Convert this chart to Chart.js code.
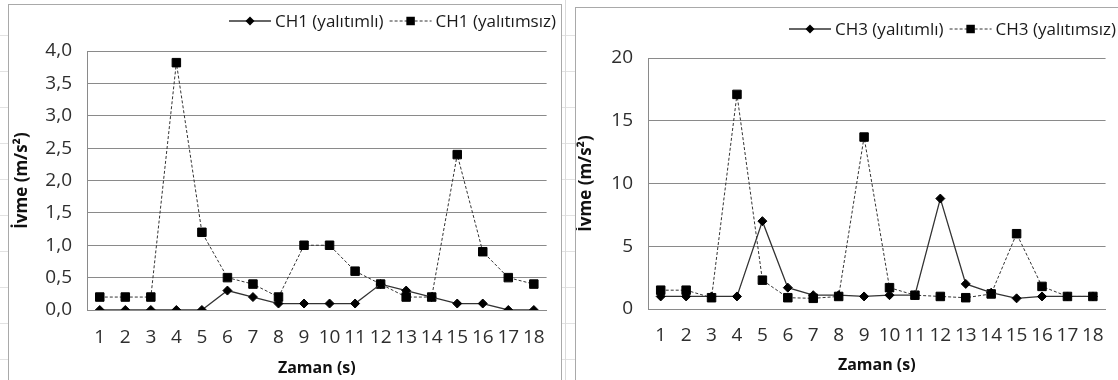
<!DOCTYPE html>
<html>
<head>
<meta charset="utf-8">
<script src="https://cdn.jsdelivr.net/npm/chart.js@4.4.0/dist/chart.umd.min.js"></script>
<style>
  html, body { margin: 0; padding: 0; }
  body {
    width: 1118px; height: 380px; overflow: hidden; position: relative;
    background-color: #fff;
    background-image:
      linear-gradient(to right, transparent 565px, #dadada 565px, #dadada 566px, transparent 566px),
      repeating-linear-gradient(to bottom, transparent 0, transparent 35px, #e2e2e2 35px, #e2e2e2 36px);
    font-family: "Open Sans", sans-serif;
  }
  .frame {
    position: absolute; background: #fff;
    border: 1px solid #a9a9a9; border-bottom: none;
  }
  #frame1 { left: 8px; top: 4px; width: 552px; height: 376px; }
  #frame2 { left: 575px; top: 7px; width: 543px; height: 373px; border-right: none; }
  .box { position: relative; width: 100%; height: 100%; }
</style>
</head>
<body>
<div class="frame" id="frame1"><div class="box"><canvas id="ch1"></canvas></div></div>
<div class="frame" id="frame2"><div class="box"><canvas id="ch3"></canvas></div></div>
<script>
// Zaman (s)
const zaman = ["1","2","3","4","5","6","7","8","9","10","11","12","13","14","15","16","17","18"];

// CH1 ivme (m/s2)
const ch1Yalitimli  = [0, 0, 0, 0, 0, 0.3, 0.2, 0.1, 0.1, 0.1, 0.1, 0.4, 0.3, 0.2, 0.1, 0.1, 0, 0];
const ch1Yalitimsiz = [0.2, 0.2, 0.2, 3.82, 1.2, 0.5, 0.4, 0.2, 1.0, 1.0, 0.6, 0.4, 0.2, 0.2, 2.4, 0.9, 0.5, 0.4];

// CH3 ivme (m/s2)
const ch3Yalitimli  = [1.0, 1.0, 1.0, 1.0, 7.0, 1.7, 1.1, 1.1, 1.0, 1.1, 1.1, 8.8, 2.0, 1.3, 0.85, 1.0, 1.0, 1.0];
const ch3Yalitimsiz = [1.5, 1.5, 0.9, 17.1, 2.3, 0.9, 0.85, 1.0, 13.7, 1.7, 1.1, 1.0, 0.9, 1.2, 6.0, 1.8, 1.0, 1.0];

const ch1Ticks = { min: 0, max: 4, step: 0.5 };
const ch3Ticks = { min: 0, max: 20, step: 5 };

const textColor = '#2e2e2e';
const gridColor = '#8a8a8a';

// legend drawn as Excel does: line segment with marker, then label
const lineLegend = {
  id: 'lineLegend',
  afterDraw(chart, args, opts) {
    const ctx = chart.ctx;
    ctx.save();
    ctx.font = '17px "Open Sans"';
    ctx.textBaseline = 'middle';
    ctx.textAlign = 'left';
    const segW = 42, gap = 4, itemGap = 6;
    let x = chart.width - opts.right;
    const y = opts.y;
    chart.data.datasets.slice().reverse().forEach(ds => {
      const tw = ctx.measureText(ds.label).width;
      x -= tw;
      ctx.fillStyle = '#1a1a1a';
      ctx.fillText(ds.label, x, y + 1);
      x -= gap + segW;
      ctx.strokeStyle = ds.borderColor;
      ctx.lineWidth = ds.borderWidth;
      ctx.setLineDash(ds.borderDash || []);
      ctx.beginPath();
      ctx.moveTo(x, y);
      ctx.lineTo(x + segW, y);
      ctx.stroke();
      ctx.setLineDash([]);
      const cx = x + segW / 2, r = ds.pointRadius;
      ctx.fillStyle = '#000';
      ctx.beginPath();
      if (ds.pointStyle === 'rect') {
        const s = r * Math.SQRT1_2;
        ctx.rect(cx - s, y - s, 2 * s, 2 * s);
      } else {
        ctx.moveTo(cx, y - r);
        ctx.lineTo(cx + r, y);
        ctx.lineTo(cx, y + r);
        ctx.lineTo(cx - r, y);
        ctx.closePath();
      }
      ctx.fill();
      x -= itemGap;
    });
    ctx.restore();
  }
};

function makeChart(id, label, yal, yalsiz, ticks, lay) {
  return new Chart(document.getElementById(id), {
    type: 'line',
    data: {
      labels: zaman,
      datasets: [
        {
          label: label + ' (yalıtımlı)',
          data: yal,
          borderColor: '#333333',
          borderWidth: 1.3,
          pointStyle: 'rectRot',
          pointRadius: 4.5,
          pointBackgroundColor: '#000',
          pointBorderColor: '#000',
          pointBorderWidth: 1,
          tension: 0
        },
        {
          label: label + ' (yalıtımsız)',
          data: yalsiz,
          borderColor: '#333333',
          borderWidth: 1,
          borderDash: [3, 2],
          pointStyle: 'rect',
          pointRadius: 6,
          pointBackgroundColor: '#000',
          pointBorderColor: '#000',
          pointBorderWidth: 1,
          tension: 0
        }
      ]
    },
    options: {
      responsive: true,
      maintainAspectRatio: false,
      animation: false,
      events: [],
      layout: { padding: { top: lay.top, right: lay.right, left: 0, bottom: 0 } },
      plugins: {
        legend: { display: false },
        tooltip: { enabled: false },
        lineLegend: { right: lay.legendRight, y: lay.legendY }
      },
      scales: {
        x: {
          offset: true,
          grid: { display: false, drawTicks: false },
          border: { display: true, color: gridColor, width: 1 },
          ticks: {
            color: textColor, font: { family: 'Open Sans', size: 19 },
            padding: lay.xTickPad, maxRotation: 0, autoSkip: false
          },
          title: {
            display: true, text: 'Zaman (s)', color: '#111',
            font: { family: 'Open Sans', size: 16, weight: 'bold' },
            padding: { top: 0, bottom: lay.xTitlePad }
          },
          afterFit: s => { s.height = lay.xHeight; }
        },
        y: {
          min: ticks.min, max: ticks.max,
          grid: { color: gridColor, lineWidth: 1, drawTicks: false },
          border: { display: true, color: gridColor, width: 1 },
          ticks: {
            stepSize: ticks.step, color: textColor, padding: 15,
            font: { family: 'Open Sans', size: 19 },
            callback: v => ticks.step < 1 ? v.toFixed(1).replace('.', ',') : String(v)
          },
          title: {
            display: true, text: 'İvme (m/s²)', color: '#111',
            font: { family: 'Open Sans', size: 17, weight: 'bold' },
            padding: { top: lay.yTitlePad, bottom: 0 }
          },
          afterFit: s => { s.width = lay.yWidth; }
        }
      }
    },
    plugins: [lineLegend]
  });
}

makeChart('ch1', 'CH1', ch1Yalitimli, ch1Yalitimsiz, ch1Ticks, {
  top: 46, right: 11, yWidth: 78, xHeight: 71,
  xTickPad: 16, xTitlePad: 3, yTitlePad: 3,
  legendRight: 5, legendY: 16
});

makeChart('ch3', 'CH3', ch3Yalitimli, ch3Yalitimsiz, ch3Ticks, {
  top: 50, right: 10, yWidth: 72, xHeight: 72,
  xTickPad: 15, xTitlePad: 6, yTitlePad: 0,
  legendRight: 3, legendY: 21
});
</script>
</body>
</html>
